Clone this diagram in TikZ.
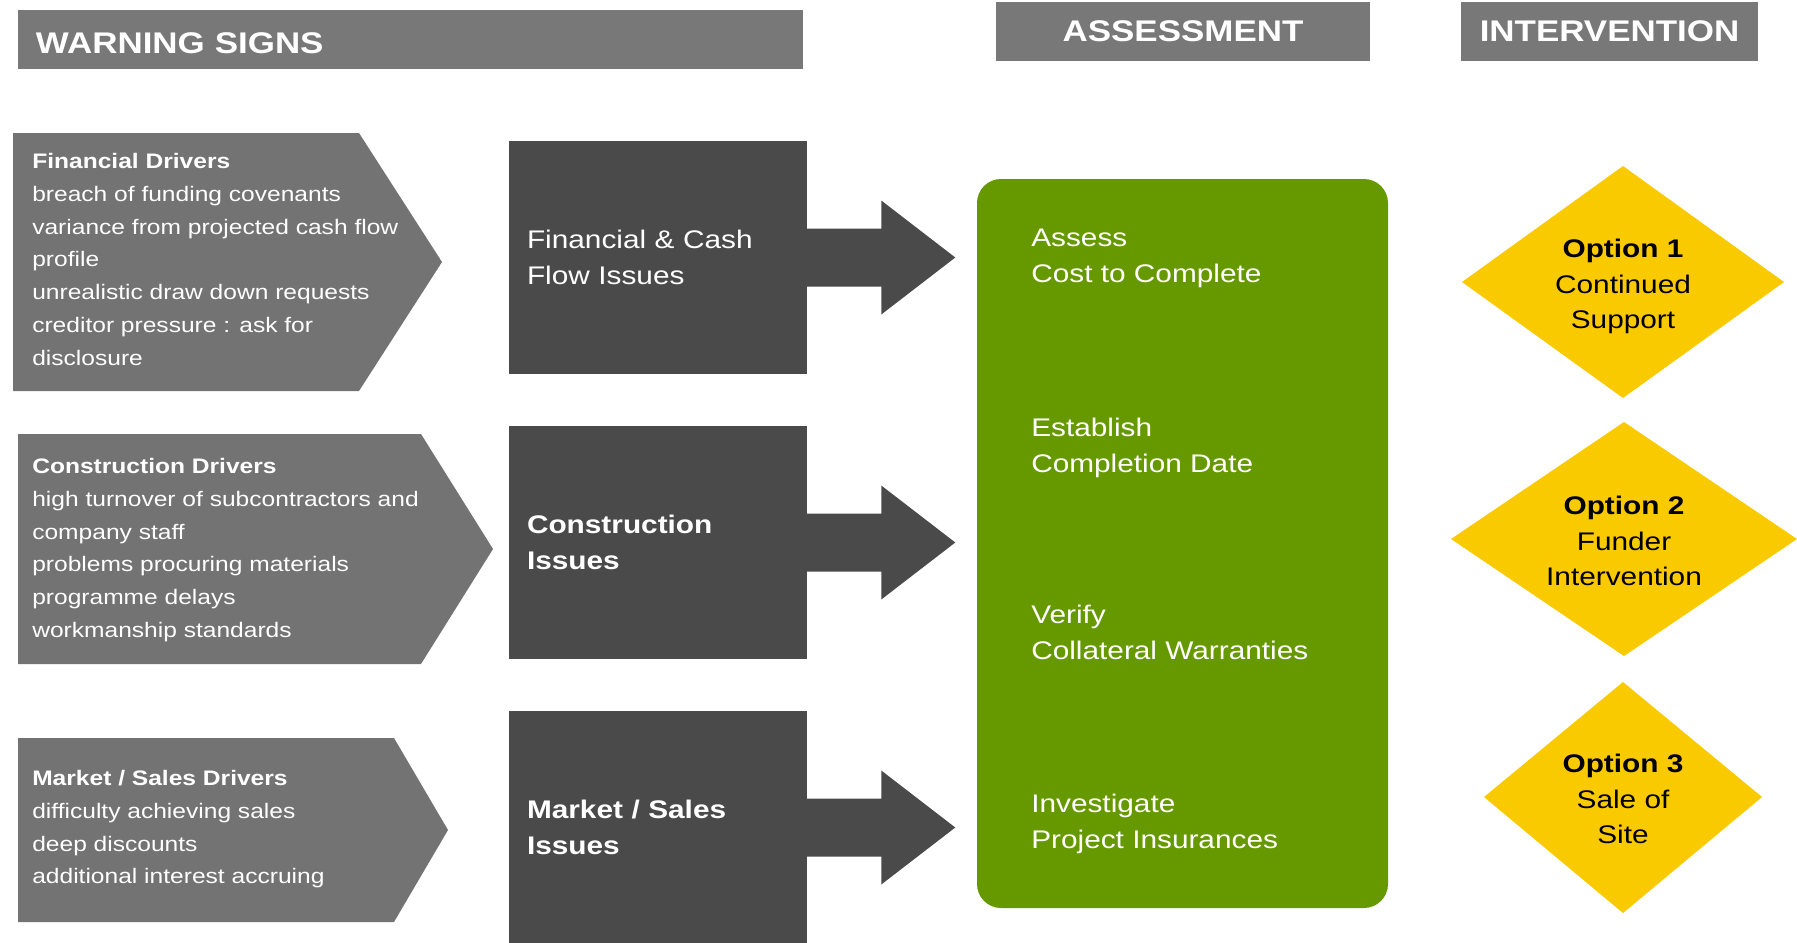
\documentclass[tikz,border=0pt]{standalone}
\usepackage{fontspec}
\setmainfont{Liberation Sans}[FakeStretch=1.17]
\usetikzlibrary{calc}

\newcommand{\drivertext}{\fontsize{15.75}{24.6}\selectfont}
\newcommand{\issuetext}{\fontsize{19.1}{26.6}\selectfont}
\newcommand{\bartext}{\fontsize{22.4}{26}\selectfont\bfseries}

\begin{document}
\begin{tikzpicture}[x=0.75pt,y=0.75pt,yscale=-1,xscale=1,
  bar/.style={fill={rgb, 255:red, 120; green, 120; blue, 120 }, text=white, font=\bartext, inner ysep=0pt, minimum height=44.25pt},
  chevron/.style={fill={rgb, 255:red, 115; green, 115; blue, 115 }},
  drivers/.style={anchor=north west, inner sep=0pt, align=left, text=white, font=\drivertext},
  issue/.style={fill={rgb, 255:red, 74; green, 74; blue, 74 }},
  issuebox/.style={issue, text=white, font=\issuetext, align=left, text width=196.5pt, inner xsep=13.5pt, inner ysep=0pt, minimum height=174.75pt},
  assesstext/.style={anchor=north west, inner sep=0pt, align=left, text=white, font=\issuetext},
  option/.style={fill={rgb, 255:red, 250; green, 202; blue, 0 }},
  optiontext/.style={anchor=north, inner sep=0pt, align=center, font=\issuetext}
]
\path[use as bounding box] (0,0) rectangle (1797,942);

% Header bars
\node[bar, align=left, text width=561.75pt, text height=20.5pt, inner xsep=13.5pt] (warnbar) at (410.5,39.5) {WARNING SIGNS};
\node[bar, minimum width=280.5pt, inner xsep=0pt] (assessbar) at (1183,31.5) {ASSESSMENT};
\node[bar, minimum width=222.75pt, inner xsep=0pt] (interbar) at (1609.5,31.5) {INTERVENTION};

%Shape: Chevrons
\fill[chevron] (13,133) -- (359,133) -- (442,262) -- (359,391) -- (13,391) -- cycle ;
\fill[chevron] (18,434) -- (421,434) -- (493,549) -- (421,664) -- (18,664) -- cycle ;
\fill[chevron] (18,738) -- (394,738) -- (448,830) -- (394,922) -- (18,922) -- cycle ;

% Text Node
\node[drivers] (findrivers) at (32,153) {\textbf{Financial Drivers}\\breach of funding covenants\\variance from projected cash flow\\profile\\unrealistic draw down requests\\creditor pressure : ask for\\disclosure};
% Text Node
\node[drivers] (condrivers) at (32,458) {\textbf{Construction Drivers}\\high turnover of subcontractors and\\company staff\\problems procuring materials\\programme delays\\workmanship standards};
% Text Node
\node[drivers] (mktdrivers) at (32,770) {\textbf{Market / Sales Drivers}\\difficulty achieving sales\\deep discounts\\additional interest accruing};

%Shape: Issue boxes
\node[issuebox] (fincash) at (658,257.5) {Financial \& Cash\\Flow Issues};
\node[issuebox] (construct) at (658,542.5) {\textbf{Construction}\\\textbf{Issues}};
\node[issuebox] (market) at (658,827.5) {\textbf{Market / Sales}\\\textbf{Issues}};

%Shape: Block arrows
\foreach \b in {fincash,construct,market}
  \fill[issue] ($(\b.east)+(-2,-29)$) -- ++(76,0) -- ++(0,-28) -- ++(74,57) -- ++(-74,57) -- ++(0,-28) -- ++(-76,0) -- cycle ;

%Shape: Rounded rectangle
\node[fill={rgb, 255:red, 102; green, 153; blue, 0 }, rounded corners=18pt, inner sep=0pt, minimum width=308.25pt, minimum height=546.75pt] (assessbox) at (1182.5,543.5) {};

% Text Node
\node[assesstext] (costcomplete) at (1031,229) {Assess\\Cost to Complete};
% Text Node
\node[assesstext] (completion) at (1031,418) {Establish\\Completion Date};
% Text Node
\node[assesstext] (warranties) at (1031,605) {Verify\\Collateral Warranties};
% Text Node
\node[assesstext] (insurances) at (1031,794) {Investigate\\Project Insurances};

%Shape: Diamonds
\fill[option] (1462,282) -- (1623,166) -- (1784,282) -- (1623,398) -- cycle ;
\fill[option] (1451,539) -- (1624,422) -- (1797,539) -- (1624,656) -- cycle ;
\fill[option] (1484,797) -- (1623,682) -- (1762,797) -- (1623,913) -- cycle ;

% Text Node
\node[optiontext] (option1) at (1623,239) {\textbf{Option 1}\\Continued\\Support};
% Text Node
\node[optiontext] (option2) at (1624,496) {\textbf{Option 2}\\Funder\\Intervention};
% Text Node
\node[optiontext] (option3) at (1623,754) {\textbf{Option 3}\\Sale of\\Site};

\end{tikzpicture}
\end{document}
